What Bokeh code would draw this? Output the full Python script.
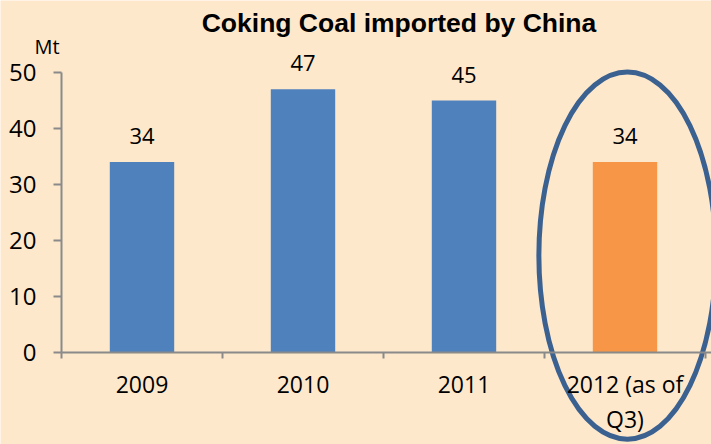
from bokeh.plotting import figure
from bokeh.models import Range1d, LinearAxis, FixedTicker, ColumnDataSource, LabelSet, Label
from bokeh.core.properties import value
from bokeh.embed import file_html
from bokeh.resources import INLINE

# ---- data ----
categories = ["2009", "2010", "2011", "2012 (as of\nQ3)"]
values = [34, 47, 45, 34]
bar_colors = ["#4F81BD", "#4F81BD", "#4F81BD", "#F79646"]
y_ticks = [0, 10, 20, 30, 40, 50]
title_text = "Coking Coal imported by China"
unit_text = "Mt"
highlight_index = 3

# ---- layout constants ----
BG = "#FDE8CC"
W, H = 711, 444
PX_CAT = 161.0      # pixels per category
PX_UNIT = 5.6       # pixels per Mt
AX_X = 61.0         # y-axis position from left (px)
AX_Y = 352.0        # x-axis position from top (px)

x_start = -AX_X / PX_CAT
x_end = (W - AX_X) / PX_CAT
y_start = -(H - AX_Y) / PX_UNIT
y_end = AX_Y / PX_UNIT

p = figure(width=W, height=H, output_backend="svg", toolbar_location=None,
           x_range=Range1d(x_start, x_end), y_range=Range1d(y_start, y_end),
           x_axis_type=None, y_axis_type=None,
           min_border=0, min_border_left=0, min_border_right=0,
           min_border_top=0, min_border_bottom=0)
p.background_fill_color = BG
p.border_fill_color = BG
p.outline_line_color = None

centers = [i + 0.5 for i in range(len(categories))]
src = ColumnDataSource(dict(x=centers, value=values, color=bar_colors,
                            label=[str(v) for v in values]))

p.vbar(x="x", top="value", bottom=0, width=0.4, fill_color="color",
       line_color=None, source=src)

AX_COLOR = "#8A8A8A"
FONT = "Open Sans"

yax = LinearAxis(fixed_location=0, bounds=(y_ticks[0], y_ticks[-1]),
                 ticker=FixedTicker(ticks=y_ticks, minor_ticks=[]),
                 major_tick_out=8, major_tick_in=0, minor_tick_out=0, minor_tick_in=0,
                 axis_line_color=AX_COLOR, axis_line_width=2,
                 major_tick_line_color=AX_COLOR, major_tick_line_width=2,
                 major_label_standoff=17,
                 major_label_text_font=FONT, major_label_text_font_size="24px",
                 major_label_text_color="black")
p.add_layout(yax, "left")

boundaries = list(range(len(categories) + 1))
xax = LinearAxis(fixed_location=0, bounds=(0, x_end),
                 ticker=FixedTicker(ticks=centers, minor_ticks=boundaries),
                 major_tick_out=0, major_tick_in=0, minor_tick_out=6, minor_tick_in=0,
                 axis_line_color=AX_COLOR, axis_line_width=2,
                 minor_tick_line_color=AX_COLOR, minor_tick_line_width=2,
                 major_label_overrides={c: lab for c, lab in zip(centers, categories)},
                 major_label_standoff=9,
                 major_label_text_font=FONT, major_label_text_font_size="23px",
                 major_label_text_line_height=1.1,
                 major_label_text_color="black")
p.add_layout(xax, "below")

labels = LabelSet(x="x", y="value", text="label", source=src, y_offset=18,
                  text_align="center", text_baseline="alphabetic",
                  text_font=value(FONT), text_font_size=value("22px"),
                  text_color="black")
p.add_layout(labels)

# highlight ellipse around last category
p.ellipse(x=[centers[highlight_index] + 0.015], y=[17.3], width=[1.1], height=[65.6],
          fill_color=None, line_color="#3B6191", line_width=5)

# title and unit
p.add_layout(Label(x=(398.5 - AX_X) / PX_CAT, y=(AX_Y - 22) / PX_UNIT,
                   text=title_text, text_align="center", text_baseline="alphabetic",
                   text_font="Liberation Sans", text_font_style="bold",
                   text_font_size="26.5px", text_color="black"))
p.add_layout(Label(x=(34 - AX_X) / PX_CAT, y=(AX_Y - 46) / PX_UNIT,
                   text=unit_text, text_align="left", text_baseline="alphabetic",
                   text_font=FONT, text_font_size="20px", text_color="black"))

open("out.html", "w").write(file_html(p, INLINE))
